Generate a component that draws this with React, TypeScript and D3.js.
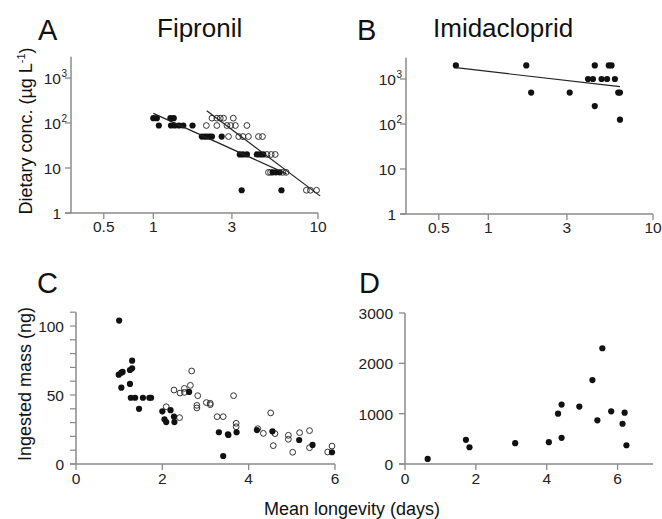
import React from 'react';
import * as d3 from 'd3';

const FONT = '"Liberation Sans", Arial, Helvetica, sans-serif';

// Panel A – Fipronil: [mean longevity (days), dietary conc (µg/L)]
const fipFilledA: [number, number][] = [
  [1.0, 128], [1.05, 128], [1.27, 128], [1.33, 128],
  [1.08, 88], [1.28, 88], [1.35, 88], [1.43, 88], [1.52, 88], [1.73, 88],
  [1.97, 50], [2.05, 50], [2.12, 50], [2.2, 50], [2.27, 50], [2.6, 50],
  [3.35, 20], [3.5, 20], [3.7, 20], [4.25, 20], [4.45, 20], [4.65, 20],
  [5.3, 8], [5.55, 8], [5.85, 8],
  [3.44, 3.2], [6.0, 3.2],
];
const fipOpenA: [number, number][] = [
  [2.27, 128], [2.43, 128], [2.55, 128], [2.67, 128], [3.06, 128],
  [2.1, 88], [2.43, 88], [2.8, 88], [2.95, 88], [3.15, 88], [3.7, 88],
  [2.86, 50], [3.3, 50], [3.5, 50], [3.78, 50], [4.35, 50], [4.6, 50],
  [4.9, 20], [5.2, 20], [5.5, 20],
  [5.0, 8], [5.15, 8], [6.1, 8], [6.4, 8],
  [8.5, 3.2], [9.0, 3.2], [9.8, 3.2],
];
const fipFitFilled: [number, number][] = [[1.0, 164], [6.45, 7.4]];
const fipFitOpen: [number, number][] = [[2.11, 187], [10.3, 2.4]];

// Panel B – Imidacloprid
const imiB: [number, number][] = [
  [0.635, 2000], [1.7, 2000], [1.82, 500], [3.12, 500], [4.03, 1000], [4.32, 1000],
  [4.43, 2000], [4.43, 250], [4.87, 1000], [5.26, 1000], [5.39, 2000], [5.6, 2000],
  [5.87, 1000], [6.15, 500], [6.3, 500], [6.3, 125],
];
const imiFit: [number, number][] = [[0.635, 1783], [6.3, 674]];

// Panel C – Fipronil ingested mass (ng)
const fipFilledC: [number, number][] = [
  [1.0, 103.9], [0.99, 64.7], [1.05, 66.2], [1.08, 66.7], [1.05, 55.3], [1.25, 68.1],
  [1.3, 69.3], [1.3, 74.9], [1.25, 58], [1.27, 48], [1.37, 48], [1.46, 40], [1.55, 48],
  [1.7, 48], [1.74, 48], [2.0, 38.2], [2.05, 32.4], [2.09, 30.4], [2.19, 39], [2.27, 34.3],
  [2.28, 30.4], [2.62, 52.2], [3.31, 23], [3.41, 5.8], [3.52, 21.5], [3.53, 21],
  [3.72, 23], [4.19, 24.6], [4.55, 23.7], [5.17, 17.4], [5.48, 13.8], [5.93, 8.5],
];
const fipOpenC: [number, number][] = [
  [2.09, 41.5], [2.27, 53.6], [2.4, 33.6], [2.41, 51.4], [2.51, 54.8], [2.51, 51.9],
  [2.65, 57], [2.68, 67.4], [2.82, 49.5], [2.8, 42.5], [2.8, 40.6], [3.02, 44.5],
  [3.11, 44.0], [3.11, 43], [3.27, 34.3], [3.41, 34.3], [3.65, 49.5], [3.71, 29.5],
  [3.71, 27], [4.21, 25.6], [4.34, 22.2], [4.51, 37], [4.57, 13.3], [4.61, 22],
  [4.92, 20.8], [4.92, 17.9], [5.02, 8.5], [5.18, 22.7], [5.41, 24.2], [5.41, 11.8],
  [5.83, 8.7], [5.93, 13],
];

// Panel D – Imidacloprid ingested mass (ng)
const imiD: [number, number][] = [
  [0.64, 100], [1.72, 480], [1.82, 333], [3.11, 413], [4.06, 433], [4.32, 1000],
  [4.42, 1180], [4.42, 520], [4.92, 1140], [5.29, 1667], [5.43, 867], [5.57, 2300],
  [5.82, 1047], [6.14, 800], [6.2, 1020], [6.25, 373],
];

const logXTicks = [0.5, 1, 3, 10];
const logYTicks = [1, 10, 100, 1000];
const cXTicks = [0, 2, 4, 6];
const cYMajor = [0, 50, 100];
const cYMinor = d3.range(0, 111, 10);
const dXTicks = [0, 2, 4, 6];
const dYTicks = [0, 1000, 2000, 3000];

const AXIS = '#8a8a8a';
const TXT = '#222';
const TICK_FS = 15.5;

type Scale = (v: number) => number;

function Dots({ data, x, y, open }: { data: [number, number][]; x: Scale; y: Scale; open?: boolean }) {
  return (
    <g>
      {data.map((d, i) => (
        <circle
          key={i}
          cx={x(d[0])}
          cy={y(d[1])}
          r={open ? 2.9 : 3.1}
          fill={open ? 'none' : '#111'}
          stroke={open ? '#333' : 'none'}
          strokeWidth={open ? 1 : 0}
        />
      ))}
    </g>
  );
}

function FitLine({ data, x, y }: { data: [number, number][]; x: Scale; y: Scale }) {
  const line = d3.line<[number, number]>().x(d => x(d[0])).y(d => y(d[1]));
  return <path d={line(data) || ''} fill="none" stroke="#222" strokeWidth={1.2} />;
}

function LogPanel({ x0, x1, yb, children }: { x0: number; x1: number; yb: number; children: (x: Scale, y: Scale) => React.ReactNode }) {
  const x = d3.scaleLog().domain([Math.pow(10, -0.5), 10]).range([x0, x1]);
  const y = d3.scaleLog().domain([1, Math.pow(10, 3.47)]).range([yb, yb - 45 * 3.47]);
  const yTop = y(Math.pow(10, 3.47));
  const sup: Record<number, string> = { 100: '2', 1000: '3' };
  return (
    <g>
      <line x1={x0} x2={x0} y1={yTop} y2={yb} stroke={AXIS} strokeWidth={1.5} />
      <line x1={x0 - 6} x2={x1} y1={yb} y2={yb} stroke={AXIS} strokeWidth={1.5} />
      {logYTicks.map(t => (
        <g key={t}>
          <line x1={x0 - 6} x2={x0} y1={y(t)} y2={y(t)} stroke={AXIS} strokeWidth={1.3} />
          {sup[t] ? (
            <>
              <text x={x0 - 10} y={y(t) + 6} textAnchor="end" fontSize={TICK_FS} fill={TXT} fontFamily={FONT}>10</text>
              <text x={x0 - 9.5} y={y(t) - 1} fontSize={10} fill={TXT} fontFamily={FONT}>{sup[t]}</text>
            </>
          ) : (
            <text x={x0 - 10} y={y(t) + 6} textAnchor="end" fontSize={TICK_FS} fill={TXT} fontFamily={FONT}>{t}</text>
          )}
        </g>
      ))}
      {logXTicks.map(t => (
        <g key={t}>
          <line x1={x(t)} x2={x(t)} y1={yb} y2={yb + 6} stroke={AXIS} strokeWidth={1.3} />
          <text x={x(t)} y={yb + 19} textAnchor="middle" fontSize={TICK_FS} fill={TXT} fontFamily={FONT}>{t}</text>
        </g>
      ))}
      {children(x, y)}
    </g>
  );
}

export default function App() {
  // Panel C scales
  const cx = d3.scaleLinear().domain([0, 6]).range([76, 335]);
  const cy = d3.scaleLinear().domain([0, 100]).range([464, 326]);
  // Panel D scales
  const dx = d3.scaleLinear().domain([0, 7]).range([405, 653]);
  const dy = d3.scaleLinear().domain([0, 3000]).range([464, 313]);

  return (
    <svg width={662} height={519} style={{ position: 'fixed', left: 0, top: 0, background: '#fff' }} fontFamily={FONT}>
      <rect width={662} height={519} fill="#fff" />
      {/* Panel titles */}
      <text x={38} y={40} fontSize={29} fill="#111">A</text>
      <text x={157} y={37} fontSize={26} fill="#111">Fipronil</text>
      <text x={357} y={40} fontSize={29} fill="#111">B</text>
      <text x={433} y={37} fontSize={26} fill="#111">Imidacloprid</text>
      <text x={37} y={293} fontSize={29} fill="#111">C</text>
      <text x={359} y={293} fontSize={29} fill="#111">D</text>

      {/* Y labels */}
      <text transform="translate(32,131) rotate(-90)" textAnchor="middle" fontSize={18} fill="#111">
        Dietary conc. (µg L<tspan fontSize={11} dy={-7}>-1</tspan><tspan dy={7}>)</tspan>
      </text>
      <text transform="translate(31,384) rotate(-90)" textAnchor="middle" fontSize={18} fill="#111">
        Ingested mass (ng)
      </text>
      <text x={352} y={515} textAnchor="middle" fontSize={18} fill="#111">Mean longevity (days)</text>

      {/* Panel A */}
      <LogPanel x0={71} x1={318} yb={213}>
        {(x, y) => (
          <g>
            <Dots data={fipOpenA} x={x} y={y} open />
            <Dots data={fipFilledA} x={x} y={y} />
            <FitLine data={fipFitFilled} x={x} y={y} />
            <FitLine data={fipFitOpen} x={x} y={y} />
          </g>
        )}
      </LogPanel>

      {/* Panel B */}
      <LogPanel x0={406} x1={653} yb={214}>
        {(x, y) => (
          <g>
            <Dots data={imiB} x={x} y={y} />
            <FitLine data={imiFit} x={x} y={y} />
          </g>
        )}
      </LogPanel>

      {/* Panel C */}
      <g>
        <line x1={76} x2={76} y1={cy(110)} y2={464} stroke={AXIS} strokeWidth={1.5} />
        <line x1={70} x2={335} y1={464} y2={464} stroke={AXIS} strokeWidth={1.5} />
        {cYMinor.map(t => (
          <line key={t} x1={70} x2={76} y1={cy(t)} y2={cy(t)} stroke={AXIS} strokeWidth={1.2} />
        ))}
        {cYMajor.map(t => (
          <text key={t} x={64} y={cy(t) + 6} textAnchor="end" fontSize={TICK_FS} fill={TXT}>{t}</text>
        ))}
        {cXTicks.map(t => (
          <g key={t}>
            <line x1={cx(t)} x2={cx(t)} y1={464} y2={470} stroke={AXIS} strokeWidth={1.3} />
            <text x={cx(t)} y={484} textAnchor="middle" fontSize={TICK_FS} fill={TXT}>{t}</text>
          </g>
        ))}
        <Dots data={fipOpenC} x={cx} y={cy} open />
        <Dots data={fipFilledC} x={cx} y={cy} />
      </g>

      {/* Panel D */}
      <g>
        <line x1={405} x2={405} y1={dy(3000)} y2={464} stroke={AXIS} strokeWidth={1.5} />
        <line x1={399} x2={653} y1={464} y2={464} stroke={AXIS} strokeWidth={1.5} />
        {dYTicks.map(t => (
          <g key={t}>
            <line x1={399} x2={405} y1={dy(t)} y2={dy(t)} stroke={AXIS} strokeWidth={1.3} />
            <text x={393} y={dy(t) + 6} textAnchor="end" fontSize={TICK_FS} fill={TXT}>{t}</text>
          </g>
        ))}
        {dXTicks.map(t => (
          <g key={t}>
            <line x1={dx(t)} x2={dx(t)} y1={464} y2={470} stroke={AXIS} strokeWidth={1.3} />
            <text x={dx(t)} y={484} textAnchor="middle" fontSize={TICK_FS} fill={TXT}>{t}</text>
          </g>
        ))}
        <Dots data={imiD} x={dx} y={dy} />
      </g>
    </svg>
  );
}
